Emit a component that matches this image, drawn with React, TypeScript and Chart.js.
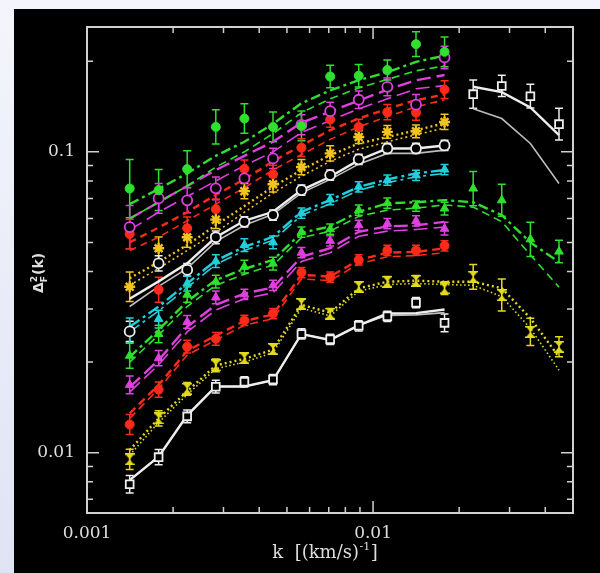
import React, { useEffect, useRef } from "react";
import { Chart, registerables } from "chart.js";

Chart.register(...registerables);

// ---------- data ----------
const kBins = [0.00141, 0.00178, 0.00224, 0.00282, 0.00355, 0.00447, 0.00562, 0.00708, 0.00891, 0.01122, 0.01413, 0.01778, 0.02239, 0.02818, 0.03548, 0.04467];

const xRange = [0.001, 0.05];
const yRange = [0.0063, 0.26];
const xTickValues = [0.002, 0.003, 0.004, 0.005, 0.006, 0.007, 0.008, 0.009, 0.01, 0.02, 0.03, 0.04];
const yTickValues = [0.007, 0.008, 0.009, 0.01, 0.02, 0.03, 0.04, 0.05, 0.06, 0.07, 0.08, 0.09, 0.1, 0.2];
const xLabelValues = [0.001, 0.01];
const xLabelTexts = ["0.001", "0.01"];
const yLabelValues = [0.01, 0.1];
const yLabelTexts = ["0.01", "0.1"];

// z = 4.2 (green filled circles)
const z42Pts = [0.0755, 0.0746, 0.0876, 0.121, 0.129, 0.121, 0.122, 0.178, 0.179, 0.187, 0.228, 0.215];
const z42Err = [0.25, 0.17, 0.15, 0.14, 0.12, 0.12, 0.12, 0.09, 0.09, 0.08, 0.1, 0.12];
const z42LineA = [0.067, 0.0753, 0.0848, 0.097, 0.108, 0.124, 0.145, 0.16, 0.173, 0.184, 0.199, 0.209];
const z42LineB = [0.06, 0.068, 0.077, 0.089, 0.1, 0.115, 0.135, 0.15, 0.163, 0.174, 0.186, 0.193];
// z = 4.0 (magenta open circles)
const z40Pts = [0.0562, 0.07, 0.069, 0.0756, 0.0816, 0.0951, 0.123, 0.1365, 0.149, 0.1645, 0.1435, 0.206];
const z40Err = [0.18, 0.12, 0.1, 0.09, 0.08, 0.08, 0.08, 0.07, 0.07, 0.07, 0.08, 0.09];
const z40LineA = [0.06, 0.068, 0.077, 0.087, 0.097, 0.108, 0.125, 0.136, 0.148, 0.161, 0.173, 0.18];
const z40LineB = [0.055, 0.063, 0.071, 0.08, 0.09, 0.1, 0.116, 0.127, 0.139, 0.15, 0.162, 0.166];
// z = 3.8 (red filled circles)
const z38Pts = [0.0533, 0.0348, 0.0557, 0.0645, 0.0878, 0.0843, 0.1032, 0.128, 0.121, 0.1355, 0.135, 0.161];
const z38Err = [0.12, 0.1, 0.09, 0.08, 0.07, 0.07, 0.07, 0.06, 0.06, 0.06, 0.06, 0.07];
const z38LineA = [0.05, 0.056, 0.063, 0.072, 0.081, 0.093, 0.105, 0.118, 0.129, 0.139, 0.1485, 0.155];
const z38LineB = [0.047, 0.052, 0.059, 0.067, 0.076, 0.087, 0.098, 0.11, 0.121, 0.131, 0.141, 0.149];
// z = 3.6 (gold stars)
const z36Pts = [0.0356, 0.0478, 0.052, 0.0595, 0.074, 0.078, 0.089, 0.0988, 0.112, 0.1165, 0.117, 0.1257];
const z36Err = [0.12, 0.09, 0.08, 0.07, 0.06, 0.06, 0.06, 0.06, 0.05, 0.05, 0.05, 0.06];
const z36LineA = [0.038, 0.043, 0.049, 0.057, 0.066, 0.0765, 0.087, 0.0975, 0.1066, 0.112, 0.118, 0.1245];
const z36LineB = [0.036, 0.041, 0.047, 0.054, 0.063, 0.073, 0.083, 0.093, 0.102, 0.108, 0.114, 0.12];
// z = 3.4 (white open circles)
const z34Pts = [0.0253, 0.0426, 0.0405, 0.052, 0.0585, 0.0616, 0.0746, 0.0837, 0.0944, 0.1026, 0.1026, 0.105];
const z34Err = [0.08, 0.06, 0.05, 0.05, 0.04, 0.04, 0.04, 0.04, 0.04, 0.04, 0.04, 0.04];
const z34LineA = [0.0325, 0.0371, 0.0426, 0.052, 0.059, 0.0632, 0.0746, 0.0826, 0.0938, 0.1026, 0.1026, 0.105];
const z34LineB = [0.0306, 0.0357, 0.041, 0.0503, 0.057, 0.062, 0.073, 0.081, 0.091, 0.0988, 0.0988, 0.1013];
// z = 3.2 (cyan triangles)
const z32Pts = [0.0255, 0.0278, 0.0365, 0.0433, 0.049, 0.05, 0.0625, 0.0694, 0.0765, 0.0805, 0.0835, 0.0873];
const z32Err = [0.1, 0.07, 0.06, 0.05, 0.05, 0.05, 0.04, 0.04, 0.04, 0.04, 0.04, 0.04];
const z32LineA = [0.0262, 0.0306, 0.0365, 0.0435, 0.0483, 0.0522, 0.0632, 0.0691, 0.0765, 0.081, 0.0848, 0.087];
const z32LineB = [0.0252, 0.0296, 0.0354, 0.0422, 0.047, 0.0508, 0.0615, 0.0672, 0.0745, 0.079, 0.0826, 0.0848];
// z = 3.0 (green triangles, with high-k extension)
const z30Pts = [0.021, 0.0248, 0.0335, 0.037, 0.0415, 0.0425, 0.0541, 0.0553, 0.064, 0.0675, 0.066, 0.0648, 0.0755, 0.069, 0.0512, 0.0466];
const z30Err = [0.1, 0.07, 0.06, 0.05, 0.05, 0.05, 0.04, 0.04, 0.04, 0.04, 0.04, 0.05, 0.14, 0.13, 0.14, 0.09];
const z30LineA = [0.0208, 0.0256, 0.0318, 0.0375, 0.0408, 0.0437, 0.0538, 0.0565, 0.0632, 0.0674, 0.068, 0.0691, 0.068, 0.0616, 0.05, 0.043];
const z30LineB = [0.02, 0.0246, 0.0306, 0.036, 0.0392, 0.042, 0.0518, 0.0545, 0.061, 0.064, 0.065, 0.0666, 0.0655, 0.0586, 0.0454, 0.0355];
// z = 2.8 (magenta triangles)
const z28Pts = [0.0168, 0.0206, 0.0272, 0.0328, 0.0336, 0.036, 0.0462, 0.0506, 0.057, 0.0577, 0.0589, 0.0555];
const z28Err = [0.07, 0.06, 0.05, 0.05, 0.04, 0.04, 0.04, 0.04, 0.04, 0.04, 0.04, 0.05];
const z28LineA = [0.0165, 0.0203, 0.0262, 0.031, 0.0338, 0.0354, 0.0448, 0.0478, 0.0542, 0.0565, 0.057, 0.0585];
const z28LineB = [0.0159, 0.0196, 0.0252, 0.0298, 0.0325, 0.034, 0.0432, 0.0462, 0.0524, 0.0545, 0.0552, 0.0562];
// z = 2.6 (red filled circles)
const z26Pts = [0.0124, 0.0162, 0.0225, 0.0239, 0.0275, 0.029, 0.0397, 0.0383, 0.0437, 0.047, 0.047, 0.0487];
const z26Err = [0.08, 0.06, 0.05, 0.05, 0.04, 0.04, 0.04, 0.04, 0.04, 0.04, 0.04, 0.04];
const z26LineA = [0.0135, 0.0168, 0.0218, 0.0245, 0.0274, 0.0288, 0.039, 0.0385, 0.0437, 0.0462, 0.0465, 0.0478];
const z26LineB = [0.013, 0.0163, 0.0211, 0.0237, 0.0265, 0.0279, 0.0378, 0.0373, 0.0424, 0.0448, 0.0452, 0.0462];
// z = 2.4 (yellow hourglasses, with high-k extension)
const z24Pts = [0.0095, 0.013, 0.0163, 0.0195, 0.0206, 0.0221, 0.0312, 0.029, 0.0356, 0.037, 0.0373, 0.0352, 0.0384, 0.0334, 0.0252, 0.0225];
const z24Err = [0.08, 0.06, 0.05, 0.05, 0.04, 0.04, 0.04, 0.04, 0.04, 0.04, 0.04, 0.05, 0.1, 0.13, 0.11, 0.08];
const z24LineA = [0.0102, 0.013, 0.016, 0.0195, 0.0205, 0.022, 0.031, 0.0292, 0.0352, 0.037, 0.0373, 0.037, 0.037, 0.0352, 0.028, 0.0208];
const z24LineB = [0.0098, 0.0126, 0.0156, 0.019, 0.02, 0.0215, 0.0302, 0.0285, 0.0344, 0.0362, 0.0365, 0.0362, 0.036, 0.033, 0.0259, 0.0188];
// z = 2.2 (white open squares)
const z22Pts = [0.00785, 0.00966, 0.0132, 0.01656, 0.0172, 0.0175, 0.0248, 0.0238, 0.0264, 0.0284, 0.0315, 0.027];
const z22Err = [0.07, 0.06, 0.05, 0.05, 0.04, 0.04, 0.04, 0.04, 0.04, 0.04, 0.04, 0.07];
const z22LineA = [0.0081, 0.0097, 0.0133, 0.0166, 0.0166, 0.0174, 0.0248, 0.0237, 0.0265, 0.029, 0.0291, 0.0299];
const z22LineB = [0.0081, 0.0097, 0.0133, 0.0166, 0.0166, 0.0174, 0.0248, 0.0237, 0.0265, 0.0286, 0.0287, 0.0292];
// high-k white squares (k bins 12..15)
const hiKOffset = 12;
const hiWhitePts = [0.1555, 0.1656, 0.1531, 0.1236];
const hiWhiteErr = [0.115, 0.085, 0.095, 0.13];
const hiWhiteLineA = [0.1645, 0.158, 0.1404, 0.1136];
const hiWhiteLineB = [0.139, 0.129, 0.1066, 0.0785];

// ---------- styles ----------
const GREEN = "#2fe02f";
const MAGENTA = "#e040e0";
const RED = "#ff2a1a";
const GOLD = "#f2c41e";
const YELLOW = "#e2da1e";
const WHITE = "#eeeeee";
const CYAN = "#20d0dc";
const TEXT = "#dedede";
const FRAME = "#d0d0d0";

const DOT = [2, 3];
const DASH = [7, 5];
const LONG = [14, 6];
const DASHDOT = [10, 4, 3, 4];

type Series = {
  pts: number[]; err: number[]; a: number[]; b: number[]; offset: number;
  color: string; marker: string; open: boolean; dashA: number[]; dashB: number[];
};

const seriesList: Series[] = [
  { pts: z42Pts, err: z42Err, a: z42LineA, b: z42LineB, offset: 0, color: GREEN, marker: "circle", open: false, dashA: DASHDOT, dashB: [8, 5] },
  { pts: z40Pts, err: z40Err, a: z40LineA, b: z40LineB, offset: 0, color: MAGENTA, marker: "circle", open: true, dashA: LONG, dashB: LONG },
  { pts: z38Pts, err: z38Err, a: z38LineA, b: z38LineB, offset: 0, color: RED, marker: "circle", open: false, dashA: DASH, dashB: DASH },
  { pts: z36Pts, err: z36Err, a: z36LineA, b: z36LineB, offset: 0, color: GOLD, marker: "star", open: false, dashA: DOT, dashB: DOT },
  { pts: z34Pts, err: z34Err, a: z34LineA, b: z34LineB, offset: 0, color: WHITE, marker: "circle", open: true, dashA: [], dashB: [] },
  { pts: z32Pts, err: z32Err, a: z32LineA, b: z32LineB, offset: 0, color: CYAN, marker: "triangle", open: false, dashA: [12, 4, 3, 4], dashB: [12, 4, 3, 4] },
  { pts: z30Pts, err: z30Err, a: z30LineA, b: z30LineB, offset: 0, color: GREEN, marker: "triangle", open: false, dashA: DASHDOT, dashB: [8, 5] },
  { pts: z28Pts, err: z28Err, a: z28LineA, b: z28LineB, offset: 0, color: MAGENTA, marker: "triangle", open: false, dashA: LONG, dashB: LONG },
  { pts: z26Pts, err: z26Err, a: z26LineA, b: z26LineB, offset: 0, color: RED, marker: "circle", open: false, dashA: [8, 5], dashB: [8, 5] },
  { pts: z24Pts, err: z24Err, a: z24LineA, b: z24LineB, offset: 0, color: YELLOW, marker: "hourglass", open: false, dashA: DOT, dashB: [1.5, 2.5] },
  { pts: z22Pts, err: z22Err, a: z22LineA, b: z22LineB, offset: 0, color: WHITE, marker: "rect", open: true, dashA: [], dashB: [] },
  { pts: hiWhitePts, err: hiWhiteErr, a: hiWhiteLineA, b: hiWhiteLineB, offset: hiKOffset, color: WHITE, marker: "rect", open: true, dashA: [], dashB: [] },
];

function toXY(vals: number[], offset: number, err?: number[]) {
  return vals.map((v, i) => ({ x: kBins[i + offset], y: v, e: err ? err[i] : 0 }));
}

function makeHourglass(color: string) {
  const c = document.createElement("canvas");
  c.width = 10; c.height = 12;
  const g = c.getContext("2d")!;
  g.fillStyle = color;
  g.beginPath(); g.moveTo(0, 0); g.lineTo(10, 0); g.lineTo(5, 6); g.closePath(); g.fill();
  g.beginPath(); g.moveTo(0, 12); g.lineTo(10, 12); g.lineTo(5, 6); g.closePath(); g.fill();
  g.fillRect(0, 0, 10, 1.5); g.fillRect(0, 10.5, 10, 1.5);
  return c;
}

function isClose(a: number, b: number) {
  return Math.abs(Math.log10(a) - Math.log10(b)) < 1e-6;
}

const backgroundPlugin = {
  id: "bgPanel",
  beforeDraw(chart: any) {
    const { ctx, width, height } = chart;
    ctx.save();
    const g = ctx.createLinearGradient(0, 0, 0, height);
    g.addColorStop(0, "#f4f5fc");
    g.addColorStop(1, "#dfe3f4");
    ctx.fillStyle = g;
    ctx.fillRect(0, 0, width, height);
    ctx.fillStyle = "#000";
    ctx.fillRect(14, 9, width - 14, height - 9);
    ctx.restore();
  },
};

const errorBarPlugin = {
  id: "errBars",
  beforeDatasetsDraw(chart: any) {
    const { ctx } = chart;
    const xs = chart.scales.x, ys = chart.scales.y;
    ctx.save();
    chart.data.datasets.forEach((ds: any) => {
      if (!ds.isPoints) return;
      ctx.strokeStyle = ds.pointBorderColor;
      ctx.lineWidth = 1.5;
      ds.data.forEach((p: any) => {
        if (!p.e) return;
        const px = xs.getPixelForValue(p.x);
        const yt = ys.getPixelForValue(p.y * (1 + p.e));
        const yb = ys.getPixelForValue(p.y / (1 + p.e));
        ctx.beginPath();
        ctx.moveTo(px, yt); ctx.lineTo(px, yb);
        ctx.moveTo(px - 4, yt); ctx.lineTo(px + 4, yt);
        ctx.moveTo(px - 4, yb); ctx.lineTo(px + 4, yb);
        ctx.stroke();
      });
    });
    ctx.restore();
  },
};

const framePlugin = {
  id: "frameTicks",
  afterDraw(chart: any) {
    const { ctx, chartArea: a } = chart;
    const xs = chart.scales.x, ys = chart.scales.y;
    ctx.save();
    ctx.strokeStyle = FRAME;
    ctx.lineWidth = 2;
    ctx.strokeRect(a.left, a.top, a.right - a.left, a.bottom - a.top);
    ctx.lineWidth = 1.5;
    ctx.beginPath();
    xTickValues.forEach((v) => {
      const px = xs.getPixelForValue(v);
      const len = isClose(v, 0.01) ? 12 : 6;
      ctx.moveTo(px, a.bottom); ctx.lineTo(px, a.bottom - len);
      ctx.moveTo(px, a.top); ctx.lineTo(px, a.top + len);
    });
    yTickValues.forEach((v) => {
      const py = ys.getPixelForValue(v);
      const len = isClose(v, 0.01) || isClose(v, 0.1) ? 12 : 6;
      ctx.moveTo(a.left, py); ctx.lineTo(a.left + len, py);
      ctx.moveTo(a.right, py); ctx.lineTo(a.right - len, py);
    });
    ctx.stroke();

    // x title
    ctx.fillStyle = TEXT;
    ctx.textBaseline = "alphabetic";
    const mainFont = "18px 'DejaVu Serif'";
    const supFont = "11px 'DejaVu Serif'";
    const p1 = "k  [(km/s)", p2 = "-1", p3 = "]";
    ctx.font = mainFont; const w1 = ctx.measureText(p1).width; const w3 = ctx.measureText(p3).width;
    ctx.font = supFont; const w2 = ctx.measureText(p2).width;
    let x0 = 325 - (w1 + w2 + 1 + w3) / 2;
    const base = 558;
    ctx.font = mainFont; ctx.fillText(p1, x0, base);
    ctx.font = supFont; ctx.fillText(p2, x0 + w1 + 0.5, base - 8);
    ctx.font = mainFont; ctx.fillText(p3, x0 + w1 + w2 + 1, base);

    // y title (rotated)
    ctx.save();
    ctx.translate(38, 273);
    ctx.rotate(-Math.PI / 2);
    const yMain = "bold 14px 'DejaVu Sans'";
    const ySmall = "bold 9px 'DejaVu Sans'";
    ctx.font = yMain; const wd = ctx.measureText("\u0394").width; const wk = ctx.measureText("(k)").width;
    ctx.font = ySmall; const ws = Math.max(ctx.measureText("2").width, ctx.measureText("F").width);
    const tot = wd + ws + 1 + wk;
    const sx = -tot / 2;
    ctx.font = yMain; ctx.fillText("\u0394", sx, 5);
    ctx.font = ySmall; ctx.fillText("2", sx + wd, -1); ctx.fillText("F", sx + wd, 9);
    ctx.font = yMain; ctx.fillText("(k)", sx + wd + ws + 1, 5);
    ctx.restore();
    ctx.restore();
  },
};

export default function App() {
  const ref = useRef<HTMLCanvasElement | null>(null);
  useEffect(() => {
    document.body.style.margin = "0";
    if (!ref.current) return;
    const datasets: any[] = [];
    seriesList.forEach((s) => {
      datasets.push({
        type: "line", data: toXY(s.a, s.offset), borderColor: s.color, borderWidth: 2.4,
        borderDash: s.dashA, pointRadius: 0, fill: false, tension: 0, order: 2,
      });
      datasets.push({
        type: "line", data: toXY(s.b, s.offset), borderColor: s.color, borderWidth: 1.6,
        borderDash: s.dashB, pointRadius: 0, fill: false, tension: 0, order: 2,
        ...(s.color === WHITE ? { borderColor: "#bdbdbd" } : {}),
      });
      let pointStyle: any = s.marker;
      let radius = 4.5;
      if (s.marker === "hourglass") { pointStyle = makeHourglass(s.color); radius = 5; }
      if (s.marker === "circle" && s.open) radius = 5;
      if (s.marker === "rect") radius = 5.5;
      if (s.marker === "triangle") radius = 5;
      if (s.marker === "star") radius = 5.5;
      datasets.push({
        type: "line", isPoints: true, showLine: false, data: toXY(s.pts, s.offset, s.err),
        pointStyle, pointRadius: radius, pointHoverRadius: radius,
        pointBackgroundColor: s.open ? "#000" : s.color, pointBorderColor: s.color,
        pointBorderWidth: s.open ? 1.8 : (s.marker === "star" ? 2.4 : 1), order: 0,
      });
    });

    const chart = new Chart(ref.current, {
      type: "line",
      data: { datasets },
      options: {
        animation: false,
        responsive: false,
        devicePixelRatio: 1,
        layout: { padding: { top: 27, right: 27, left: 0, bottom: 0 } },
        plugins: { legend: { display: false }, tooltip: { enabled: false } },
        events: [],
        scales: {
          x: {
            type: "logarithmic", min: xRange[0], max: xRange[1],
            grid: { display: false, drawTicks: false }, border: { display: false },
            ticks: {
              color: TEXT, font: { family: "DejaVu Serif", size: 17 }, padding: 10, autoSkip: false, maxRotation: 0,
              callback: (v: any) => { const i = xLabelValues.findIndex((l) => isClose(Number(v), l)); return i >= 0 ? xLabelTexts[i] : ""; },
            },
            afterFit: (s: any) => { s.height = 60; },
          },
          y: {
            type: "logarithmic", min: yRange[0], max: yRange[1],
            grid: { display: false, drawTicks: false }, border: { display: false },
            ticks: {
              color: TEXT, font: { family: "DejaVu Serif", size: 17 }, padding: 12, autoSkip: false,
              callback: (v: any) => { const i = yLabelValues.findIndex((l) => isClose(Number(v), l)); return i >= 0 ? yLabelTexts[i] : ""; },
            },
            afterFit: (s: any) => { s.width = 87; },
          },
        },
      } as any,
      plugins: [backgroundPlugin, errorBarPlugin, framePlugin],
    });
    return () => chart.destroy();
  }, []);
  return (
    <div style={{ width: 600, height: 573 }}>
      <canvas ref={ref} width={600} height={573} style={{ display: "block" }} />
    </div>
  );
}
